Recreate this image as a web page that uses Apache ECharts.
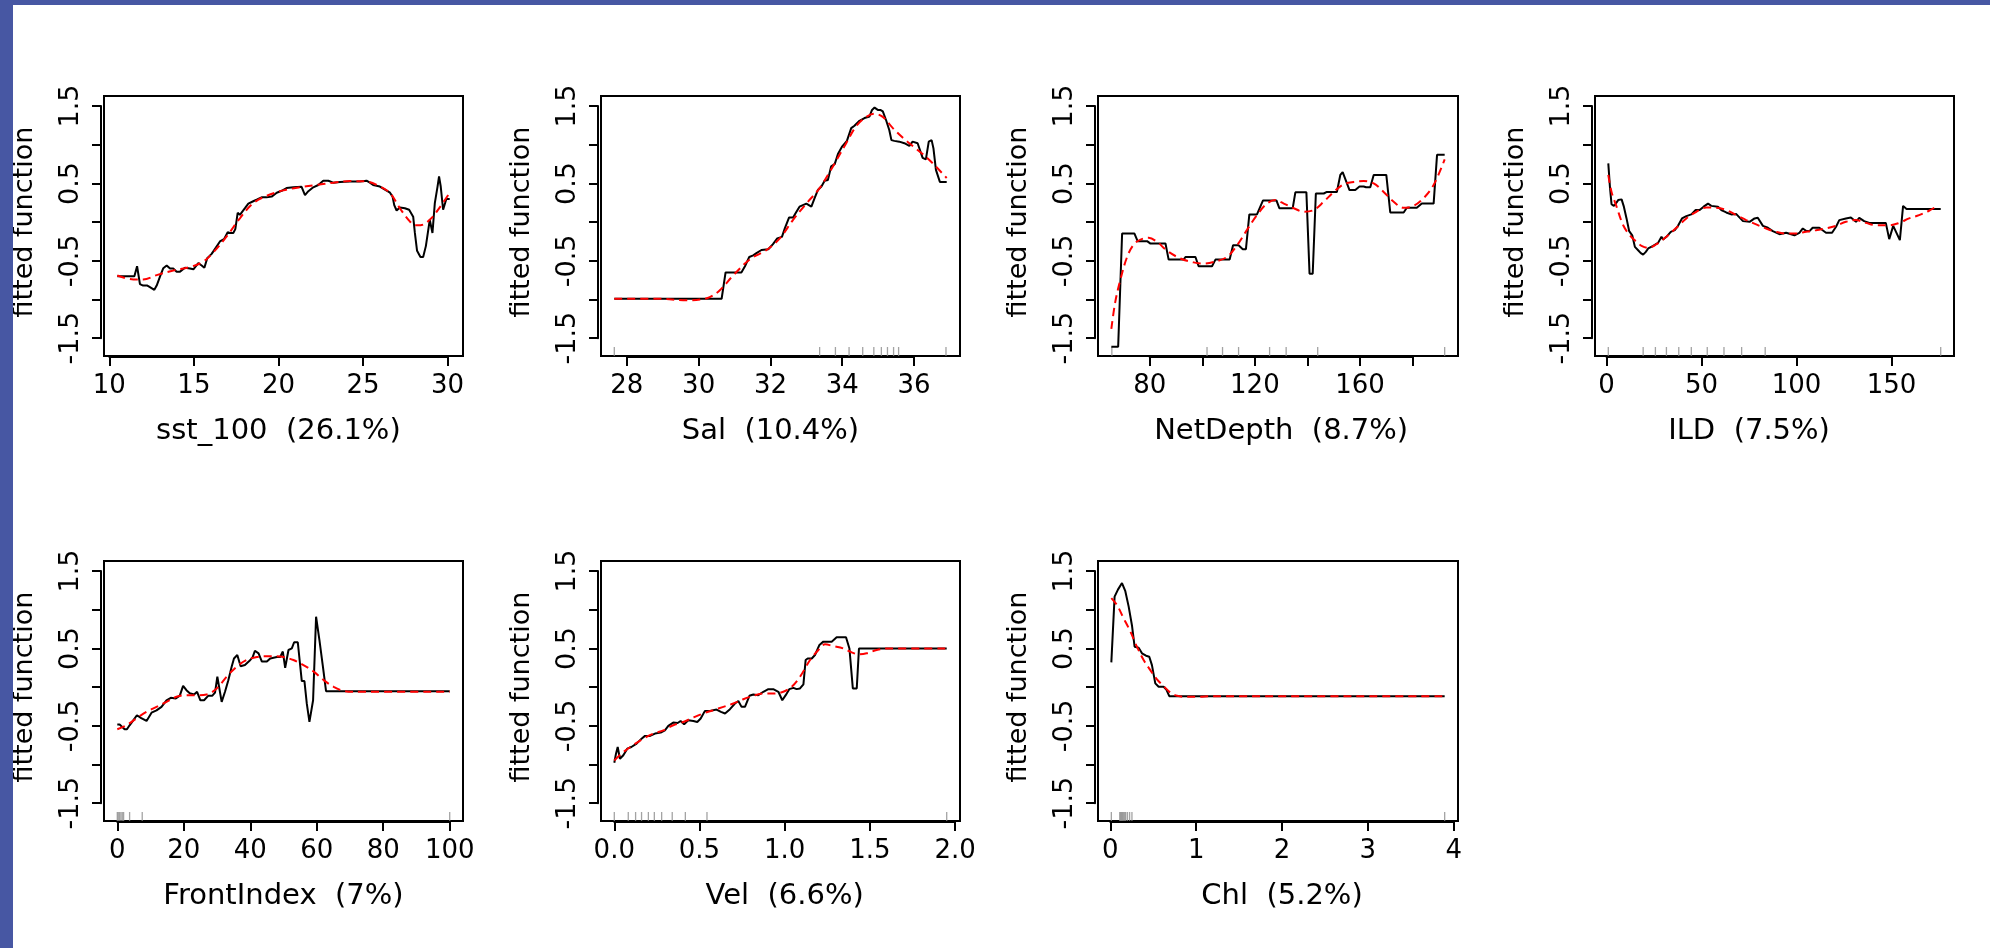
<!DOCTYPE html>
<html><head><meta charset="utf-8">
<script src="https://cdn.jsdelivr.net/npm/echarts@6/dist/echarts.min.js"></script>
<style>html,body{margin:0;padding:0;background:#fff;overflow:hidden}#c{width:1990px;height:948px}</style>
</head><body><div id="c"></div>
<script>
// ---------------- DATA ----------------
const varNames = ['sst_100','Sal','NetDepth','ILD','FrontIndex','Vel','Chl'];
const varPct   = ['26.1%','10.4%','8.7%','7.5%','7%','6.6%','5.2%'];

// fitted function (black) and smoothed (red dashed), [x, y]
const sstFit = [[10.47,-0.70],[11.48,-0.70],[11.64,-0.57],[11.81,-0.80],[12.0,-0.82],[12.25,-0.82],[12.4,-0.84],[12.66,-0.875],[12.8,-0.82],[13.0,-0.70],[13.19,-0.595],[13.39,-0.56],[13.59,-0.60],[13.78,-0.60],[13.98,-0.64],[14.18,-0.64],[14.47,-0.59],[14.77,-0.60],[14.97,-0.61],[15.26,-0.53],[15.46,-0.56],[15.62,-0.59],[15.79,-0.465],[16.05,-0.41],[16.3,-0.33],[16.54,-0.25],[16.78,-0.22],[17.0,-0.13],[17.13,-0.14],[17.33,-0.14],[17.45,-0.09],[17.59,0.12],[17.72,0.095],[18.02,0.18],[18.22,0.24],[18.51,0.27],[18.71,0.29],[19.0,0.32],[19.3,0.32],[19.6,0.33],[19.9,0.38],[20.19,0.405],[20.48,0.44],[20.88,0.45],[21.37,0.457],[21.57,0.35],[21.77,0.40],[22.06,0.45],[22.36,0.48],[22.65,0.535],[22.95,0.535],[23.24,0.51],[23.64,0.52],[24.23,0.525],[24.82,0.525],[25.21,0.535],[25.41,0.51],[25.6,0.48],[26.0,0.46],[26.3,0.42],[26.6,0.38],[26.75,0.33],[26.85,0.22],[26.99,0.15],[27.18,0.19],[27.48,0.18],[27.73,0.16],[27.97,0.07],[28.07,-0.14],[28.2,-0.37],[28.4,-0.45],[28.56,-0.45],[28.72,-0.31],[28.95,0.03],[29.11,-0.14],[29.25,0.245],[29.41,0.46],[29.5,0.59],[29.6,0.46],[29.74,0.16],[29.93,0.30],[30.13,0.30]];
const sstSmooth = [[10.47,-0.69],[11.42,-0.74],[12.0,-0.74],[12.8,-0.685],[13.78,-0.625],[14.77,-0.58],[15.56,-0.51],[16.15,-0.39],[16.94,-0.185],[17.72,0.05],[18.51,0.245],[19.3,0.34],[20.29,0.41],[21.27,0.45],[22.26,0.48],[23.24,0.51],[24.23,0.53],[25.21,0.525],[26.0,0.46],[26.6,0.375],[27.18,0.18],[27.77,0.01],[28.07,-0.04],[28.4,-0.04],[28.95,0.03],[29.54,0.19],[30.13,0.38]];
const sstRug = [];

const salFit = [[27.65,-0.99],[30.64,-0.99],[30.75,-0.65],[31.19,-0.65],[31.29,-0.57],[31.41,-0.45],[31.52,-0.43],[31.61,-0.40],[31.75,-0.36],[31.94,-0.35],[32.07,-0.285],[32.19,-0.21],[32.32,-0.19],[32.4,-0.08],[32.52,0.06],[32.63,0.06],[32.72,0.13],[32.81,0.20],[32.86,0.19],[33.0,0.24],[33.14,0.20],[33.23,0.31],[33.32,0.415],[33.42,0.46],[33.51,0.535],[33.6,0.545],[33.69,0.72],[33.79,0.75],[33.88,0.88],[34.0,0.98],[34.13,1.05],[34.25,1.215],[34.34,1.245],[34.48,1.31],[34.62,1.345],[34.76,1.366],[34.83,1.45],[34.9,1.48],[34.99,1.45],[35.06,1.45],[35.13,1.43],[35.22,1.32],[35.31,1.19],[35.37,1.06],[35.45,1.05],[35.59,1.04],[35.73,1.02],[35.87,0.985],[35.96,1.04],[36.1,1.02],[36.24,0.83],[36.33,0.81],[36.41,1.04],[36.49,1.06],[36.54,0.955],[36.61,0.675],[36.72,0.52],[36.91,0.52]];
const salSmooth = [[27.65,-0.99],[28.83,-0.99],[29.67,-1.01],[30.04,-1.0],[30.31,-0.97],[30.59,-0.88],[30.96,-0.69],[31.43,-0.48],[31.89,-0.36],[32.26,-0.21],[32.63,0.03],[33.0,0.24],[33.37,0.44],[33.74,0.72],[34.11,1.02],[34.39,1.24],[34.67,1.36],[34.9,1.40],[35.13,1.36],[35.41,1.215],[35.69,1.09],[35.96,0.985],[36.24,0.88],[36.52,0.76],[36.91,0.57]];
const salRug = [27.65,33.37,33.81,34.19,34.57,34.88,35.09,35.26,35.43,35.57,36.89];

const depFit = [[65.4,-1.61],[68.0,-1.61],[69.5,-0.147],[74.2,-0.147],[75.4,-0.246],[79.0,-0.246],[80.3,-0.277],[86.0,-0.277],[87.2,-0.484],[92.9,-0.484],[93.6,-0.45],[97.4,-0.45],[98.6,-0.57],[103.7,-0.57],[105.0,-0.484],[110.4,-0.484],[111.7,-0.30],[113.8,-0.30],[115.4,-0.35],[116.6,-0.35],[117.9,0.10],[120.8,0.10],[123.1,0.28],[128.2,0.28],[129.3,0.18],[134.4,0.18],[135.4,0.385],[139.6,0.385],[140.8,-0.666],[142.0,-0.666],[143.2,0.37],[146.2,0.37],[147.4,0.39],[151.2,0.39],[152.5,0.61],[153.4,0.645],[156.0,0.415],[158.2,0.415],[159.8,0.46],[161.4,0.46],[162.3,0.45],[163.9,0.45],[165.2,0.61],[170.0,0.61],[171.5,0.125],[176.6,0.125],[177.8,0.186],[181.6,0.186],[183.5,0.24],[188.0,0.24],[189.3,0.87],[192.2,0.87]];
const depSmooth = [[65.4,-1.38],[66.9,-1.03],[68.8,-0.75],[71.4,-0.45],[73.9,-0.29],[76.5,-0.225],[79.6,-0.203],[82.8,-0.255],[86.6,-0.37],[91.7,-0.47],[96.7,-0.52],[100.5,-0.536],[104.3,-0.515],[109.4,-0.45],[113.2,-0.30],[117.0,-0.10],[120.8,0.09],[124.6,0.24],[127.8,0.285],[131.0,0.24],[134.8,0.18],[138.6,0.134],[142.4,0.156],[146.2,0.264],[150.0,0.39],[153.8,0.49],[157.6,0.52],[161.4,0.53],[165.2,0.50],[169.0,0.39],[172.8,0.264],[176.6,0.186],[180.4,0.21],[184.2,0.31],[188.0,0.48],[192.2,0.81]];
const depRug = [65.6,101.8,107.7,113.8,125.6,131.9,143.9,192.2];

const ildFit = [[0.9,0.76],[1.75,0.458],[2.6,0.233],[3.85,0.21],[4.9,0.24],[6.1,0.285],[7.9,0.294],[9.1,0.20],[10.5,0.048],[11.9,-0.117],[13.5,-0.17],[14.9,-0.32],[16.6,-0.363],[18.0,-0.40],[19.25,-0.42],[20.65,-0.385],[21.9,-0.34],[24.5,-0.307],[27.1,-0.268],[28.9,-0.19],[29.75,-0.225],[31.5,-0.19],[33.8,-0.125],[35.9,-0.104],[37.6,-0.048],[39.7,0.048],[42.0,0.078],[44.6,0.10],[46.9,0.156],[49.0,0.156],[51.1,0.20],[53.4,0.24],[55.1,0.21],[58.6,0.20],[60.4,0.156],[63.0,0.125],[65.6,0.10],[68.3,0.104],[71.8,0.013],[75.3,0.004],[77.9,0.048],[79.6,0.056],[82.3,-0.048],[84.9,-0.073],[87.5,-0.117],[91.0,-0.156],[94.5,-0.138],[98.9,-0.17],[101.5,-0.138],[103.3,-0.082],[105.0,-0.112],[106.8,-0.117],[108.5,-0.073],[112.0,-0.073],[115.5,-0.138],[118.7,-0.138],[120.8,-0.06],[122.5,0.026],[126.0,0.048],[128.6,0.06],[131.3,0.004],[133.0,0.056],[135.6,0.013],[138.3,-0.01],[147.0,-0.01],[148.8,-0.22],[150.9,-0.048],[154.4,-0.233],[156.1,0.21],[157.9,0.17],[175.9,0.17]];
const ildSmooth = [[0.9,0.61],[2.6,0.39],[5.25,0.20],[8.75,-0.04],[12.25,-0.17],[15.75,-0.255],[18.4,-0.307],[21.9,-0.333],[26.25,-0.285],[31.5,-0.19],[36.75,-0.073],[42.0,0.048],[47.25,0.134],[52.5,0.19],[57.75,0.186],[63.0,0.156],[68.25,0.09],[73.5,0.026],[78.75,-0.03],[84.0,-0.082],[89.25,-0.125],[94.5,-0.147],[99.75,-0.147],[105.0,-0.125],[110.25,-0.104],[115.5,-0.082],[120.75,-0.048],[126.0,0.004],[131.25,0.026],[136.5,-0.01],[141.75,-0.04],[148.75,-0.04],[154.0,-0.01],[159.25,0.048],[164.5,0.09],[169.75,0.147],[174.1,0.21]];
const ildRug = [0.9,19.25,25.7,31.5,38.0,44.6,53.0,61.8,71.1,83.5,175.9];

const frontFit = [[0,-0.484],[0.7,-0.484],[1.5,-0.515],[2.2,-0.545],[2.9,-0.545],[3.7,-0.493],[4.7,-0.437],[5.9,-0.363],[7.2,-0.40],[8.8,-0.437],[10.3,-0.33],[11.8,-0.30],[13.3,-0.255],[14.8,-0.17],[16.1,-0.138],[17.6,-0.147],[18.8,-0.11],[19.8,0.017],[20.8,-0.04],[21.8,-0.08],[23.1,-0.095],[24.0,-0.06],[25.0,-0.17],[26.1,-0.17],[27.4,-0.11],[28.6,-0.11],[29.4,-0.07],[30.1,0.134],[31.4,-0.19],[32.4,-0.06],[33.4,0.09],[34.4,0.264],[35.1,0.37],[36.1,0.415],[37.1,0.27],[38.4,0.285],[39.7,0.337],[40.7,0.385],[41.4,0.47],[42.5,0.437],[43.5,0.33],[45.0,0.33],[46.0,0.37],[48.0,0.39],[49.0,0.39],[49.8,0.46],[50.5,0.25],[51.5,0.48],[52.5,0.50],[53.2,0.58],[54.3,0.58],[55.5,0.078],[56.3,0.078],[57.0,-0.21],[57.8,-0.45],[58.9,-0.17],[59.8,0.91],[60.8,0.61],[61.8,0.285],[62.8,-0.052],[100,-0.052]];
const frontSmooth = [[0,-0.545],[2.7,-0.493],[5.7,-0.406],[8.75,-0.32],[11.8,-0.255],[14.8,-0.19],[17.8,-0.125],[20.8,-0.104],[23.8,-0.104],[26.9,-0.095],[29.9,-0.017],[32.9,0.134],[35.9,0.264],[38.9,0.35],[42.0,0.39],[45.0,0.40],[48.0,0.40],[50.0,0.39],[53.0,0.35],[56.0,0.285],[59.1,0.20],[62.1,0.09],[65.1,0.004],[68.1,-0.048],[71.1,-0.06],[100,-0.06]];
const frontRug = [0,0.3,0.7,1.1,1.5,1.9,3.7,7.5,100];

const velFit = [[0,-0.977],[0.01,-0.86],[0.02,-0.774],[0.033,-0.925],[0.053,-0.88],[0.076,-0.795],[0.10,-0.774],[0.131,-0.73],[0.16,-0.666],[0.18,-0.63],[0.21,-0.63],[0.239,-0.60],[0.272,-0.588],[0.297,-0.558],[0.317,-0.50],[0.346,-0.458],[0.372,-0.463],[0.389,-0.437],[0.41,-0.48],[0.434,-0.428],[0.464,-0.437],[0.487,-0.45],[0.507,-0.406],[0.532,-0.307],[0.562,-0.307],[0.60,-0.29],[0.626,-0.32],[0.65,-0.34],[0.679,-0.285],[0.708,-0.212],[0.728,-0.18],[0.747,-0.255],[0.767,-0.255],[0.793,-0.112],[0.816,-0.095],[0.845,-0.104],[0.875,-0.06],[0.904,-0.026],[0.933,-0.026],[0.963,-0.06],[0.986,-0.17],[1.006,-0.104],[1.027,-0.026],[1.051,-0.009],[1.07,-0.026],[1.09,-0.017],[1.11,0.035],[1.123,0.35],[1.135,0.37],[1.159,0.37],[1.178,0.415],[1.204,0.545],[1.227,0.588],[1.276,0.588],[1.305,0.644],[1.36,0.644],[1.38,0.50],[1.40,-0.017],[1.423,-0.017],[1.436,0.50],[1.951,0.50]];
const velSmooth = [[0,-0.947],[0.053,-0.84],[0.11,-0.75],[0.17,-0.666],[0.229,-0.60],[0.288,-0.558],[0.346,-0.493],[0.405,-0.45],[0.464,-0.393],[0.523,-0.34],[0.581,-0.298],[0.64,-0.255],[0.699,-0.212],[0.757,-0.156],[0.816,-0.112],[0.875,-0.082],[0.933,-0.082],[0.992,-0.06],[1.041,0.004],[1.09,0.134],[1.149,0.35],[1.198,0.48],[1.237,0.553],[1.286,0.53],[1.344,0.50],[1.393,0.45],[1.432,0.424],[1.481,0.437],[1.54,0.48],[1.599,0.50],[1.951,0.50]];
const velRug = [0,0.082,0.125,0.16,0.20,0.235,0.278,0.34,0.417,0.544,1.951];

const chlFit = [[0.012,0.32],[0.05,1.17],[0.089,1.26],[0.136,1.345],[0.175,1.24],[0.214,1.04],[0.252,0.80],[0.283,0.523],[0.33,0.51],[0.369,0.437],[0.416,0.406],[0.454,0.393],[0.485,0.285],[0.524,0.048],[0.563,0.004],[0.621,0.004],[0.652,-0.03],[0.687,-0.117],[3.895,-0.117]];
const chlSmooth = [[0.012,1.15],[0.078,1.06],[0.155,0.89],[0.233,0.72],[0.31,0.523],[0.388,0.35],[0.466,0.22],[0.544,0.10],[0.621,0.013],[0.699,-0.07],[0.777,-0.112],[0.893,-0.125],[1.01,-0.125],[1.2,-0.117],[3.895,-0.117]];
const chlRug = [0.012,0.11,0.12,0.13,0.14,0.15,0.16,0.17,0.18,0.20,0.225,0.252,3.895];

// axis ticks and the tick labels that are printed
const xTicks = [[10,15,20,25,30],[28,30,32,34,36],[80,100,120,140,160,180],[0,50,100,150],[0,20,40,60,80,100],[0,0.5,1,1.5,2],[0,1,2,3,4]];
const xTickLabels = [['10','15','20','25','30'],['28','30','32','34','36'],['80','','120','','160',''],['0','50','100','150'],['0','20','40','60','80','100'],['0.0','0.5','1.0','1.5','2.0'],['0','1','2','3','4']];
const yTicks = [-1.5,-1,-0.5,0,0.5,1,1.5];
const yTickLabels = ['-1.5','','-0.5','','0.5','','1.5'];
const yTitle = 'fitted function';

// ---------------- LAYOUT ----------------
const fits = [sstFit,salFit,depFit,ildFit,frontFit,velFit,chlFit];
const smooths = [sstSmooth,salSmooth,depSmooth,ildSmooth,frontSmooth,velSmooth,chlSmooth];
const rugs = [sstRug,salRug,depRug,ildRug,frontRug,velRug,chlRug];

const colLeft = [104, 601, 1098, 1595];
const colW = [359, 359, 360, 359];
const rowTop = [96, 561];
const boxH = 260;
const yMin = -1.73, yMax = 1.63;
const FONT = 'DejaVu Sans';

const grid = [], xAxis = [], yAxis = [], series = [];
for (let i = 0; i < 7; i++) {
  const col = i < 4 ? i : i - 4, row = i < 4 ? 0 : 1;
  const L = colLeft[col], W = colW[col], T = rowTop[row], H = boxH;
  const xs = fits[i].map(p => p[0]);
  const lo = Math.min(...xs), hi = Math.max(...xs), pad = 0.04 * (hi - lo);
  const xmin = lo - pad, xmax = hi + pad;
  const tk = xTicks[i], t0 = tk[0], t1 = tk[tk.length - 1], step = tk[1] - tk[0];
  grid.push({left: L, top: T, width: W, height: H, show: true, borderColor: '#000', borderWidth: 2, backgroundColor: 'transparent'});
  const gl = L + (t0 - xmin) / (xmax - xmin) * W;
  const gw = (t1 - t0) / (xmax - xmin) * W;
  const gt = T + (yMax - 1.5) / (yMax - yMin) * H;
  const gh = 3 / (yMax - yMin) * H;
  grid.push({left: gl, top: gt, width: gw, height: gh, show: false});
  const gA = 2 * i, gB = 2 * i + 1;
  xAxis.push({gridIndex: gA, type: 'value', min: xmin, max: xmax, show: false});
  yAxis.push({gridIndex: gA, type: 'value', min: yMin, max: yMax, show: false});
  const labs = xTickLabels[i];
  xAxis.push({
    gridIndex: gB, type: 'value', min: t0, max: t1, interval: step, position: 'bottom',
    offset: (T + H) - (gt + gh) + 1,
    axisLine: {show: true, onZero: false, lineStyle: {color: '#000', width: 2}},
    axisTick: {show: true, length: 9, lineStyle: {color: '#000', width: 2}},
    splitLine: {show: false},
    axisLabel: {show: true, fontFamily: FONT, fontSize: 26, color: '#000', margin: 16,
      showMinLabel: true, showMaxLabel: true,
      formatter: v => { const k = tk.findIndex(t => Math.abs(t - v) < 1e-9); return k >= 0 ? labs[k] : ''; }},
    name: varNames[i] + '  (' + varPct[i] + ')', nameLocation: 'middle', nameGap: 60,
    nameTextStyle: {fontFamily: FONT, fontSize: 29, color: '#000'}
  });
  yAxis.push({
    gridIndex: gB, type: 'value', min: -1.5, max: 1.5, interval: 0.5, position: 'left',
    offset: gl - L + 3,
    axisLine: {show: true, onZero: false, lineStyle: {color: '#000', width: 2}},
    axisTick: {show: true, length: 9, lineStyle: {color: '#000', width: 2}},
    splitLine: {show: false},
    axisLabel: {show: true, fontFamily: FONT, fontSize: 27, color: '#000', margin: 17, rotate: 90,
      showMinLabel: true, showMaxLabel: true,
      formatter: v => { const k = yTicks.findIndex(t => Math.abs(t - v) < 1e-9); return k >= 0 ? yTickLabels[k] : ''; }},
    name: yTitle, nameLocation: 'middle', nameGap: 63, nameRotate: 90,
    nameTextStyle: {fontFamily: FONT, fontSize: 27, color: '#000'}
  });
  series.push({type: 'scatter', xAxisIndex: gA, yAxisIndex: gA, data: rugs[i].map(x => [x, yMin]),
    symbol: 'rect', symbolSize: [1.3, 9], symbolOffset: [0, -4.5], itemStyle: {color: '#8c8c8c'}, silent: true, clip: false, z: 1});
  series.push({type: 'line', xAxisIndex: gA, yAxisIndex: gA, data: fits[i], showSymbol: false, symbol: 'none',
    lineStyle: {color: '#000', width: 2}, silent: true, z: 2});
  series.push({type: 'line', xAxisIndex: gA, yAxisIndex: gA, data: smooths[i], showSymbol: false, symbol: 'none', smooth: 0.35,
    lineStyle: {color: '#ff0000', width: 2, type: [8, 5]}, silent: true, z: 3});
}

const chart = echarts.init(document.getElementById('c'), null, {renderer: 'canvas'});
chart.setOption({
  animation: false,
  backgroundColor: '#ffffff',
  grid, xAxis, yAxis, series,
  graphic: [
    {type: 'rect', left: 0, top: 0, shape: {width: 1990, height: 5}, style: {fill: '#4757a3'}, z: 100},
    {type: 'rect', left: 0, top: 0, shape: {width: 13, height: 948}, style: {fill: '#4757a3'}, z: 100}
  ]
});
</script></body></html>
